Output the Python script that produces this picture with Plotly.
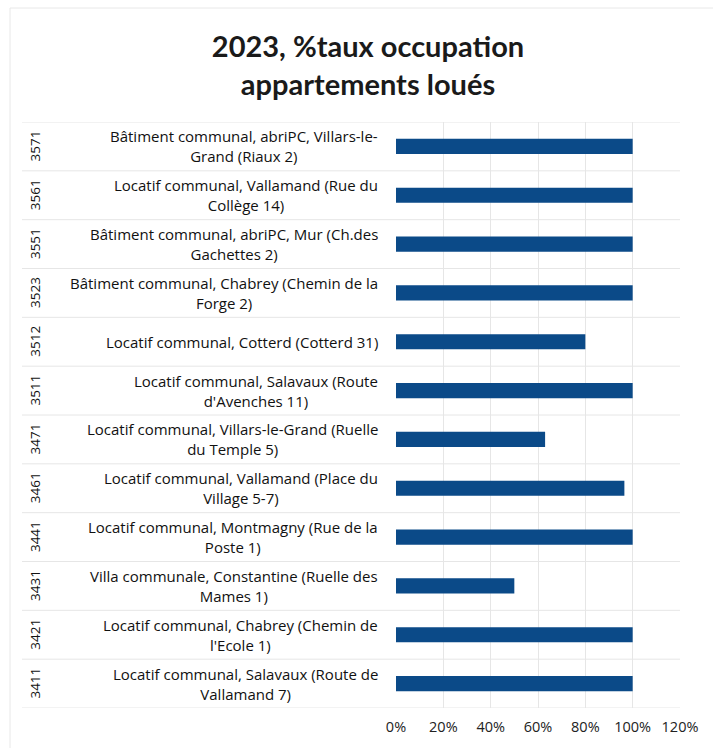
import plotly.graph_objects as go

# Building codes (top to bottom) and their descriptions
codes = ["3571", "3561", "3551", "3523", "3512", "3511",
         "3471", "3461", "3441", "3431", "3421", "3411"]
labels = [
    "Bâtiment communal, abriPC, Villars-le-<br>Grand (Riaux 2)",
    "Locatif communal, Vallamand (Rue du<br>Collège 14)",
    "Bâtiment communal, abriPC, Mur (Ch.des<br>Gachettes 2)",
    "Bâtiment communal, Chabrey (Chemin de la<br>Forge 2)",
    "Locatif communal, Cotterd (Cotterd 31)",
    "Locatif communal, Salavaux (Route<br>d'Avenches 11)",
    "Locatif communal, Villars-le-Grand (Ruelle<br>du Temple 5)",
    "Locatif communal, Vallamand (Place du<br>Village 5-7)",
    "Locatif communal, Montmagny (Rue de la<br>Poste 1)",
    "Villa communale, Constantine (Ruelle des<br>Mames 1)",
    "Locatif communal, Chabrey (Chemin de<br>l'Ecole 1)",
    "Locatif communal, Salavaux (Route de<br>Vallamand 7)",
]
occupation = [1.0, 1.0, 1.0, 1.0, 0.8, 1.0, 0.63, 0.965, 1.0, 0.5, 1.0, 1.0]
x_ticks = [0, 0.2, 0.4, 0.6, 0.8, 1.0, 1.2]

FONT = "'Open Sans', Lato, sans-serif"
TITLE_FONT = "Lato, 'Open Sans', sans-serif"
BAR = "#0b4a88"
GRID = "#e6e6e6"

fig = go.Figure(go.Bar(
    x=occupation,
    y=labels,
    orientation="h",
    width=0.31,
    marker=dict(color=BAR, line=dict(width=0)),
    hoverinfo="skip",
))

# Two-level category labels: rotated code plus centred description
annotations = []
for code, lab in zip(codes, labels):
    annotations.append(dict(
        x=0, xref="paper", y=lab, yref="y",
        text=lab, showarrow=False, xanchor="right", yanchor="middle",
        align="center", xshift=-16,
        font=dict(family=FONT, size=15, color="#111111"),
    ))
    annotations.append(dict(
        x=0, xref="paper", y=lab, yref="y",
        text=code, showarrow=False, xanchor="center", yanchor="middle",
        textangle=-90, xshift=-361,
        font=dict(family=FONT, size=13.5, color="#111111"),
    ))

# Category separators, running across the label area
plot_w = 713 - 396 - 33
left_edge = (22 - 396) / plot_w
shapes = []
for k in range(len(labels) + 1):
    shapes.append(dict(
        type="line", xref="paper", x0=left_edge, x1=1,
        yref="y", y0=k - 0.5, y1=k - 0.5,
        line=dict(color=GRID, width=1), layer="below",
    ))
# Faint chart-area border
shapes.append(dict(
    type="rect", xref="paper", yref="paper",
    x0=(10 - 396) / plot_w, x1=1.2, y0=-0.2, y1=(708 - 8) / 586,
    line=dict(color="#e8e8e8", width=1), layer="below",
))

fig.update_layout(
    width=713, height=748,
    margin=dict(l=396, r=33, t=122, b=40),
    paper_bgcolor="white", plot_bgcolor="white",
    showlegend=False,
    title=dict(
        text="<b>2023, %taux occupation<br>appartements loués</b>",
        x=368 / 713, xref="container", xanchor="center",
        y=1 - 57 / 748, yref="container", yanchor="middle",
        font=dict(family=TITLE_FONT, size=29, color="#1a1a1a"),
    ),
    xaxis=dict(
        range=[0, 1.2], tickvals=x_ticks, tickformat=".0%",
        showgrid=True, gridcolor=GRID, gridwidth=1,
        zeroline=False, showline=False, ticks="",
        tickfont=dict(family=FONT, size=14.5, color="#222222"),
        ticklabelstandoff=8, fixedrange=True,
    ),
    yaxis=dict(
        type="category", categoryorder="array", categoryarray=labels,
        range=[len(labels) - 0.5, -0.5],
        showticklabels=False, showgrid=False, zeroline=False,
        showline=False, ticks="", fixedrange=True,
    ),
    annotations=annotations,
    shapes=shapes,
)

fig.write_html("out.html")
